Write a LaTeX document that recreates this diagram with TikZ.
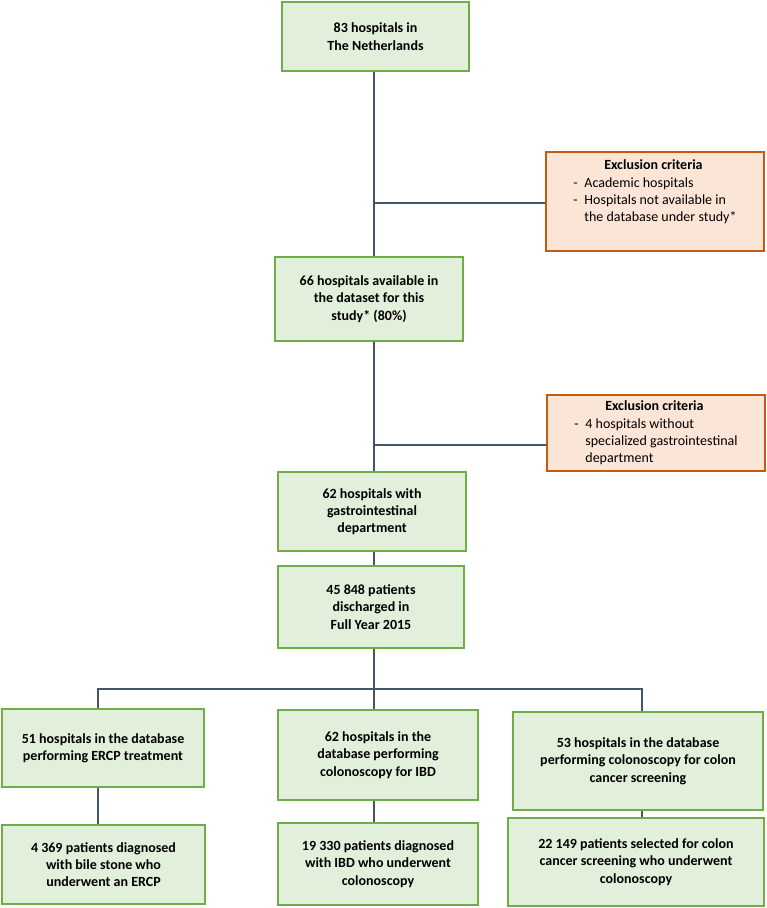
\documentclass[tikz,border=0pt]{standalone}
\usepackage{fontspec}
\setmainfont{Carlito}
\definecolor{lineC}{HTML}{44546A}
\definecolor{grnB}{HTML}{70AD47}
\definecolor{grnF}{HTML}{E2EFDA}
\definecolor{orgB}{HTML}{C55A11}
\definecolor{orgF}{HTML}{FBE5D6}
\tikzset{
  gbox/.style={draw=grnB, fill=grnF, line width=2.5pt, rectangle, inner sep=0pt,
    align=center, font=\fontsize{14}{17.3}\selectfont\bfseries},
  ebox/.style={draw=orgB, fill=orgF, line width=2.5pt, rectangle, inner sep=0pt,
    align=left, font=\fontsize{14}{17.3}\selectfont},
  conn/.style={draw=lineC, line width=2pt},
}
\newcommand{\ttl}{\makebox[160pt]{\bfseries Exclusion criteria}}
\newcommand{\itm}[1]{\makebox[11pt][l]{-}#1}
\newcommand{\cnt}[1]{\hspace*{11pt}#1}
\begin{document}
\begin{tikzpicture}[x=1pt,y=-1pt]
\useasboundingbox (0,0) rectangle (767,908);
% spine coordinates
\coordinate (sx) at (374,0);
\coordinate (cx1) at (98,0);
\coordinate (cx3) at (642,0);
\coordinate (j1) at (374,203);
\coordinate (j2) at (374,445);
\coordinate (br) at (374,689);
% boxes
\node[gbox, minimum width=187pt, minimum height=69pt] (b1) at (375.5,36.5) {83 hospitals in\\The Netherlands};
\node[gbox, minimum width=188pt, minimum height=84pt] (b2) at (369,299) {66 hospitals available in\\the dataset for this\\study* (80\%)};
\node[gbox, minimum width=188pt, minimum height=79pt] (b3) at (372,511.5) {62 hospitals with\\gastrointestinal\\department};
\node[gbox, minimum width=186pt, minimum height=82pt] (b4) at (371,607) {45 848 patients\\discharged in\\Full Year 2015};
\node[gbox, minimum width=202pt, minimum height=78pt] (b5) at (103,748) {51 hospitals in the database\\performing ERCP treatment};
\node[gbox, minimum width=200pt, minimum height=90pt] (b6) at (378,755) {62 hospitals in the\\database performing\\colonoscopy for IBD};
\node[gbox, minimum width=250pt, minimum height=98pt] (b7) at (638,761) {53 hospitals in the database\\performing colonoscopy for colon\\cancer screening};
\node[gbox, minimum width=203pt, minimum height=79pt] (b8) at (103.5,864.5) {4 369 patients diagnosed\\with bile stone who\\underwent an ERCP};
\node[gbox, minimum width=200pt, minimum height=82pt] (b9) at (378,864) {19 330 patients diagnosed\\with IBD who underwent\\colonoscopy};
\node[gbox, minimum width=256pt, minimum height=88pt] (b10) at (636,862) {22 149 patients selected for colon\\cancer screening who underwent\\colonoscopy};
\node[ebox, minimum width=218pt, minimum height=99pt] (e1) at (655,201.5) {\ttl\\\itm{Academic hospitals}\\\itm{Hospitals not available in}\\\cnt{the database under study*}\\[4pt]};
\node[ebox, minimum width=218pt, minimum height=76pt] (e2) at (656,433) {\ttl\\\itm{4 hospitals without}\\\cnt{specialized gastrointestinal}\\\cnt{department}};
% connectors
\draw[conn] (b1.south -| sx) -- (b2.north -| sx);
\draw[conn] (b2.south -| sx) -- (b3.north -| sx);
\draw[conn] (b3.south -| sx) -- (b4.north -| sx);
\draw[conn] (b4.south -| sx) -- (br);
\draw[conn] (j1) -- (j1 -| e1.west);
\draw[conn] (j2) -- (j2 -| e2.west);
\draw[conn] (b5.north -| cx1) |- (br) -| (b7.north -| cx3);
\draw[conn] (br) -- (b6.north -| sx);
\draw[conn] (b5.south -| cx1) -- (b8.north -| cx1);
\draw[conn] (b6.south -| sx) -- (b9.north -| sx);
\draw[conn] (b7.south -| cx3) -- (b10.north -| cx3);
\end{tikzpicture}
\end{document}
